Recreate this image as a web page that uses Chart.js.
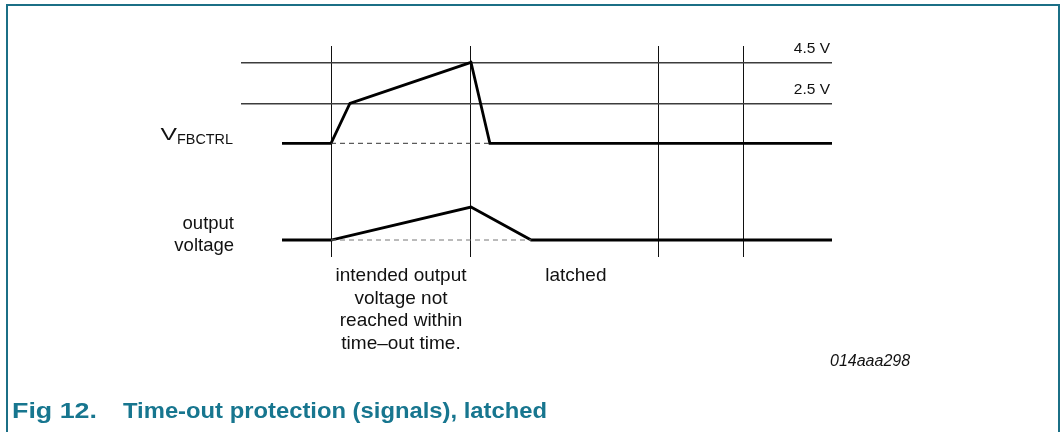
<!DOCTYPE html>
<html lang="en">
<head>
<meta charset="UTF-8">
<title>Time-out protection (signals), latched</title>
<script src="https://cdn.jsdelivr.net/npm/chart.js"></script>
<style>
  html, body { margin: 0; padding: 0; background: #fff; }
  body { width: 1063px; height: 432px; position: relative; overflow: hidden; }
  .frame { position: absolute; left: 6px; top: 4px; width: 1050px; height: 440px; border: 2px solid #1b6f86; border-bottom: none; }
  #wrap { position: absolute; left: 0; top: 0; width: 1063px; height: 432px; }
</style>
</head>
<body>
<div class="frame"></div>
<div id="wrap"><canvas id="timing"></canvas></div>

<script>
    // time in sketch units (vertical lines are the event markers)
    const markerTimes = [0, 10, 23.4, 29.5];
    const thresholdVolts = [2.5, 4.5];

    // V_FBCTRL trace (volts)
    const fbTimes = [-3.5, 0, 1.35, 10, 11.35, 35.8];
    const fbVolts = [0.55, 0.55, 2.5, 4.5, 0.55, 0.55];
    const fbRefTimes = [0, 11.35];
    const fbRefVolts = [0.55, 0.55];

    // output voltage trace (relative level)
    const outTimes = [-3.5, 0, 10, 14.3, 35.8];
    const outLevel = [0, 0, 1, 0, 0];
    const outRefTimes = [0, 14.3];
    const outRefLevel = [0, 0];

    const FONT = "'Liberation Sans', Arial, sans-serif";

    function pts(xs, ys) {
        return xs.map((x, i) => ({ x: x, y: ys[i] }));
    }

    function put(ctx, text, x, y, font, align, width) {
        ctx.save();
        ctx.font = font;
        ctx.textAlign = align || 'left';
        ctx.textBaseline = 'alphabetic';
        if (width) {
            const k = width / ctx.measureText(text).width;
            ctx.translate(x, y);
            ctx.scale(k, 1);
            ctx.fillText(text, 0, 0);
        } else {
            ctx.fillText(text, x, y);
        }
        ctx.restore();
    }

    const textPlugin = {
        id: 'sketchText',
        afterDraw(chart) {
            const ctx = chart.ctx;
            const xs = chart.scales.x;
            ctx.fillStyle = '#111';

            // signal names
            put(ctx, 'FBCTRL', 233, 144, '15px ' + FONT, 'right', 56);
            put(ctx, 'V', 177, 140, '17px ' + FONT, 'right', 16.5);
            put(ctx, 'output', 234, 229, '18.5px ' + FONT, 'right');
            put(ctx, 'voltage', 234, 251, '18.5px ' + FONT, 'right');

            // notes under the markers
            const mid = xs.getPixelForValue((markerTimes[0] + markerTimes[1]) / 2);
            const note = ['intended output', 'voltage not', 'reached within', 'time\u2013out time.'];
            note.forEach((t, i) => put(ctx, t, mid, 281 + i * 22.6, '19px ' + FONT, 'center'));
            put(ctx, 'latched', xs.getPixelForValue(15.3), 281, '19px ' + FONT, 'left');

            put(ctx, '014aaa298', 830, 366, 'italic 16px ' + FONT, 'left');

            // caption
            ctx.fillStyle = '#17768f';
            put(ctx, 'Fig 12.', 12, 418, 'bold 22.5px ' + FONT, 'left', 85);
            put(ctx, 'Time-out protection (signals), latched', 123, 418, 'bold 22.5px ' + FONT, 'left', 424);
        }
    };

    const ctx = document.getElementById('timing').getContext('2d');
    new Chart(ctx, {
        type: 'line',
        data: {
            datasets: [
                { data: pts(fbRefTimes, fbRefVolts), yAxisID: 'y', borderColor: '#333', borderWidth: 1, borderDash: [5, 4] },
                { data: pts(outRefTimes, outRefLevel), yAxisID: 'y2', borderColor: '#777', borderWidth: 1, borderDash: [5, 4] },
                { data: pts(fbTimes, fbVolts), yAxisID: 'y', borderColor: '#000', borderWidth: 2.8 },
                { data: pts(outTimes, outLevel), yAxisID: 'y2', borderColor: '#000', borderWidth: 2.8 }
            ]
        },
        options: {
            responsive: true,
            maintainAspectRatio: false,
            animation: false,
            layout: { padding: { left: 241, right: 231, top: 46, bottom: 175 } },
            elements: {
                point: { radius: 0 },
                line: { tension: 0, borderJoinStyle: 'miter', fill: false }
            },
            plugins: { legend: { display: false }, tooltip: { enabled: false } },
            scales: {
                x: {
                    type: 'linear',
                    min: -6.43,
                    max: 35.79,
                    afterBuildTicks: s => { s.ticks = markerTimes.map(v => ({ value: v })); },
                    afterFit: s => { s.height = 0; },
                    ticks: { display: false },
                    grid: { color: '#111', lineWidth: 1, drawTicks: false },
                    border: { display: false }
                },
                y: {
                    position: 'right',
                    min: -5,
                    max: 5.3,
                    afterBuildTicks: s => { s.ticks = thresholdVolts.map(v => ({ value: v })); },
                    afterFit: s => { s.width = 0; },
                    ticks: {
                        mirror: true,
                        padding: -2,
                        labelOffset: -14,
                        color: '#111',
                        font: { family: FONT, size: 15.5 },
                        callback: v => v + ' V'
                    },
                    grid: { color: '#3c3c3c', lineWidth: 1.4, drawTicks: false },
                    border: { display: false }
                },
                y2: {
                    display: false,
                    min: -0.515,
                    max: 5.88
                }
            }
        },
        plugins: [textPlugin]
    });
</script>
</body>
</html>
